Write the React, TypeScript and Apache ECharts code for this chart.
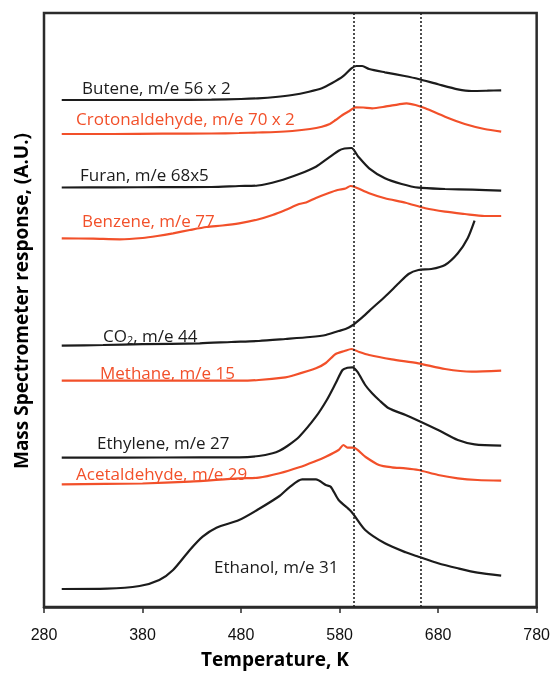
import React, { useEffect, useRef } from 'react';
import * as echarts from 'echarts';

// Temperature axis (K)
const tempMin = 280;
const tempMax = 780;
const tempStep = 100;
// Dotted reference temperatures (K)
const markTemps = [594, 662];

// Series: [Temperature K, response A.U. (offset stacked)]
const butene = [[298,507],[350,507],[400,507],[450,507.3],[480,508],[497,508.7],[515,510],[532,512],[549,515.3],[562,518.7],[572,523.7],[583,530.3],[592,538.7],[597,541],[603,541],[610,538],[626,534.7],[646,531],[660,528],[680,522.7],[700,517.7],[714,516],[730,516.3],[744,516.7]];
const crotonaldehyde = [[298,473],[350,473],[400,473.3],[450,473.5],[478,474],[497,474.5],[515,475],[532,476],[550,478],[562,480.3],[570,483],[576,487],[583,492],[590,496],[596,499.7],[604,499.5],[613,498.7],[626,500.3],[640,502.7],[648,503.7],[657,502],[667,498.7],[687,490.3],[707,483],[727,478],[744,475.3]];
const furan = [[298,419.5],[350,419.7],[400,419.8],[450,420],[478,421],[497,421.5],[518,426],[539,433],[556,440.3],[569,449.3],[579,456.3],[585,458.5],[592,459],[599,450.3],[610,438.7],[626,428.7],[643,423],[660,419.3],[687,418],[715,417.3],[744,416.3]];
const benzene = [[298,368.7],[330,368.3],[357,367.7],[380,369],[395,371],[411,373.7],[428,377],[445,380],[461,381.5],[478,383.7],[497,387.5],[512,392],[525,397],[539,403],[546,404.5],[556,409],[569,414],[578,417],[586,418.5],[591,421],[596,419.7],[610,413.7],[626,408.7],[647,404.3],[667,398.7],[687,395.3],[707,393],[727,391],[744,391]];
const co2 = [[298,261.3],[340,262],[380,262.8],[438,263.7],[470,265],[498,266],[525,268],[550,270],[566,272],[579,276],[586,278],[592,281],[603,289.7],[613,298.7],[626,310.3],[640,323.7],[650,333],[660,337],[673,338],[687,342],[700,353.7],[710,368.7],[717,386.3]];
const methane = [[298,226.3],[400,226.3],[478,226.3],[498,227],[525,229.7],[532,231.3],[556,238.7],[566,244],[576,253],[585,256],[592,258],[600,255],[610,252],[633,247.7],[660,243.7],[687,238],[714,235.3],[744,236.3]];
const ethylene = [[298,149.3],[400,149.5],[478,149.7],[498,151],[512,153.7],[519,156.3],[527,161],[539,170.3],[556,190.3],[567,207],[576,223.7],[583,237],[588,239.3],[593,239.7],[598,235.3],[606,222],[613,213.7],[620,207],[630,198.7],[647,192],[660,186.3],[680,177],[700,167],[717,162.7],[744,161.3]];
const acetaldehyde = [[298,122.7],[380,123.5],[428,125.3],[478,128.7],[498,129.3],[519,133.7],[539,139.7],[554,145.3],[566,150.3],[579,157],[584,162],[588,159.3],[594,159.3],[606,150.3],[620,142],[633,139.7],[647,138.7],[660,137],[680,132],[700,128.7],[720,127],[744,126.3]];
const ethanol = [[298,18],[344,18.3],[377,21],[397,27],[411,37],[428,57],[441,70.3],[455,79.3],[478,87],[498,98],[519,111],[529,119.7],[542,127.7],[556,127.7],[566,122],[571,120.3],[579,107],[592,95.3],[606,77],[626,63.7],[647,54.7],[660,50.3],[680,43.7],[700,38.7],[720,34.3],[744,31.3]];

const seriesNames = ['Butene', 'Crotonaldehyde', 'Furan', 'Benzene', 'CO2', 'Methane', 'Ethylene', 'Acetaldehyde', 'Ethanol'];
const seriesData = [butene, crotonaldehyde, furan, benzene, co2, methane, ethylene, acetaldehyde, ethanol];
const seriesLabels = ['Butene, m/e 56 x 2', 'Crotonaldehyde, m/e 70 x 2', 'Furan, m/e 68x5', 'Benzene, m/e 77', 'CO{s|2}, m/e 44', 'Methane, m/e 15', 'Ethylene, m/e 27', 'Acetaldehyde, m/e 29', 'Ethanol, m/e 31'];

const BLACK = '#1c1c1c';
const ORANGE = '#f2502a';
const seriesColors = [BLACK, ORANGE, BLACK, ORANGE, BLACK, ORANGE, BLACK, ORANGE, BLACK];
// label anchor positions (px): left x, vertical center y
const labelPos = [[82, 87], [76, 118], [80, 174], [82, 220], [103, 335], [100, 372], [97, 442], [76, 473], [214, 566]];

const FONT = '"Open Sans", "Noto Sans", sans-serif';

export default function App() {
  const ref = useRef<HTMLDivElement>(null);
  useEffect(() => {
    const chart = echarts.init(ref.current!, null, { renderer: 'svg' });
    const series: any[] = seriesData.map((d, i) => ({
      name: seriesNames[i],
      type: 'line',
      data: d,
      showSymbol: false,
      smooth: 0.25,
      lineStyle: { color: seriesColors[i], width: 2.2 },
      itemStyle: { color: seriesColors[i] },
      z: 3,
    }));
    series[0].markLine = {
      silent: true,
      symbol: ['none', 'none'],
      label: { show: false },
      lineStyle: { type: [2, 2], color: '#222', width: 1.6 },
      data: markTemps.map((t) => ({ xAxis: t })),
    };
    const graphic: any[] = seriesLabels.map((t, i) => ({
      type: 'text',
      x: labelPos[i][0],
      y: labelPos[i][1],
      z: 10,
      style: {
        text: t,
        fill: seriesColors[i],
        fontFamily: FONT,
        fontSize: 17,
        verticalAlign: 'middle',
        align: 'left',
        rich: {
          s: { fontSize: 11, fontFamily: FONT, fill: seriesColors[i], verticalAlign: 'bottom', padding: [9, 0, 0, 0] },
        },
      },
    }));
    graphic.push({
      type: 'text',
      x: 21,
      y: 301,
      rotation: Math.PI / 2,
      style: {
        text: 'Mass Spectrometer response, (A.U.)',
        fill: '#000',
        fontFamily: FONT,
        fontWeight: 'bold',
        fontSize: 19,
        align: 'center',
        verticalAlign: 'middle',
      },
    });
    graphic.push({
      type: 'text',
      x: 275,
      y: 659,
      style: {
        text: 'Temperature, K',
        fill: '#000',
        fontFamily: FONT,
        fontWeight: 'bold',
        fontSize: 19,
        align: 'center',
        verticalAlign: 'middle',
      },
    });
    chart.setOption({
      animation: false,
      grid: {
        left: 44,
        right: 14,
        top: 13,
        bottom: 67,
        show: true,
        borderColor: '#2b2b2b',
        borderWidth: 2.5,
        backgroundColor: 'transparent',
      },
      xAxis: {
        type: 'value',
        min: tempMin,
        max: tempMax,
        interval: tempStep,
        axisLine: { show: true, lineStyle: { color: '#2b2b2b', width: 2.5 } },
        axisTick: { show: true, length: 6, lineStyle: { color: '#2b2b2b', width: 1.5 } },
        axisLabel: { color: '#111', fontSize: 16, fontFamily: '"Liberation Sans", Arial, sans-serif', margin: 19 },
        splitLine: { show: false },
      },
      yAxis: {
        type: 'value',
        min: 0,
        max: 594,
        show: false,
        splitLine: { show: false },
      },
      series,
      graphic,
    });
    return () => chart.dispose();
  }, []);
  return <div ref={ref} style={{ position: 'fixed', left: 0, top: 0, width: 553, height: 674 }} />;
}
